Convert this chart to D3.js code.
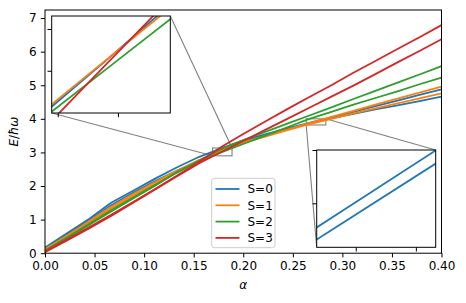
<!DOCTYPE html>
<html><head><meta charset="utf-8">
<script src="https://cdn.jsdelivr.net/npm/d3@7"></script>
<style>
html,body{margin:0;padding:0;background:#fff;}
text{font-family:"DejaVu Sans",sans-serif;}
</style>
</head><body>
<svg id="chart" width="466" height="303"></svg>
<script>
// ---- data ----
const alpha = [0, 0.0222, 0.0444, 0.0667, 0.0889, 0.1111, 0.1333, 0.1556, 0.1778, 0.2, 0.2222, 0.2444, 0.2667, 0.2889, 0.3111, 0.3333, 0.3556, 0.3778, 0.4];
const S0_upper = [0.17, 0.59, 1.02, 1.50, 1.86, 2.22, 2.56, 2.87, 3.12, 3.36, 3.54, 3.716, 3.878, 4.04, 4.21, 4.38, 4.54, 4.71, 4.88];
const S0_lower = [0.13, 0.55, 0.97, 1.43, 1.80, 2.15, 2.46, 2.75, 3.022, 3.30, 3.52, 3.695, 3.855, 4.015, 4.15, 4.28, 4.40, 4.53, 4.66];
const S1_upper = [0.12, 0.53, 0.95, 1.38, 1.76, 2.12, 2.46, 2.78, 3.06, 3.30, 3.49, 3.68, 3.87, 4.06, 4.24, 4.42, 4.60, 4.78, 4.96];
const S1_lower = [0.10, 0.50, 0.91, 1.33, 1.71, 2.07, 2.42, 2.763, 3.023, 3.283, 3.47, 3.66, 3.84, 4.00, 4.16, 4.31, 4.46, 4.61, 4.76];
const S2_upper = [0.08, 0.47, 0.87, 1.28, 1.66, 2.03, 2.40, 2.75, 3.10, 3.37, 3.61, 3.86, 4.10, 4.34, 4.59, 4.83, 5.08, 5.32, 5.57];
const S2_lower = [0.06, 0.44, 0.84, 1.24, 1.63, 2.01, 2.42, 2.752, 3.001, 3.25, 3.50, 3.75, 4.00, 4.21, 4.42, 4.62, 4.82, 5.03, 5.23];
const S3_upper = [0.05, 0.41, 0.77, 1.14, 1.52, 1.91, 2.31, 2.72, 3.16, 3.55, 3.92, 4.29, 4.65, 5.00, 5.37, 5.72, 6.08, 6.43, 6.79];
const S3_lower = [0.03, 0.38, 0.74, 1.11, 1.50, 1.90, 2.29, 2.68, 3.012, 3.34, 3.67, 4.00, 4.33, 4.66, 4.99, 5.33, 5.68, 6.02, 6.37];
const seriesLabels = ["S=0", "S=1", "S=2", "S=3"];
const colors = ["#1f77b4", "#ff7f0e", "#2ca02c", "#d62728"];
const xTicks = [0, 0.05, 0.10, 0.15, 0.20, 0.25, 0.30, 0.35, 0.40];
const yTicks = [0, 1, 2, 3, 4, 5, 6, 7];
const inset1X = [0.169, 0.1887], inset1Y = [2.899, 3.131];
const inset1XTicks = [0.17, 0.18], inset1YTicks = [3.0, 3.1];
const inset2X = [0.2635, 0.2833], inset2Y = [3.8175, 4.0];
const inset2XTicks = [0.27, 0.28], inset2YTicks = [3.9, 4.0];

const upper = [S0_upper, S1_upper, S2_upper, S3_upper];
const lower = [S0_lower, S1_lower, S2_lower, S3_lower];
const pts = arr => alpha.map((a, i) => [a, arr[i]]);

// ---- layout ----
const svg = d3.select("#chart");
const M = {l: 45, r: 441.5, t: 10, b: 253.2};
const x = d3.scaleLinear([0, 0.4], [M.l, M.r]);
const y = d3.scaleLinear([0, 7.24], [M.b, M.t]);
const LW = 1.8, TL = 4.2, FS = 12;

const defs = svg.append("defs");
function clip(id, x0, y0, x1, y1) {
  defs.append("clipPath").attr("id", id).append("rect")
    .attr("x", x0).attr("y", y0).attr("width", x1 - x0).attr("height", y1 - y0);
}
clip("cmain", M.l, M.t, M.r, M.b);

const I1 = {x0: 51.7, x1: 170.3, y0: 16, y1: 113};
const I2 = {x0: 316.7, x1: 435.7, y0: 150, y1: 247.3};
const xi1 = d3.scaleLinear(inset1X, [I1.x0, I1.x1]), yi1 = d3.scaleLinear(inset1Y, [I1.y1, I1.y0]);
const xi2 = d3.scaleLinear(inset2X, [I2.x0, I2.x1]), yi2 = d3.scaleLinear(inset2Y, [I2.y1, I2.y0]);
clip("ci1", I1.x0, I1.y0, I1.x1, I1.y1);
clip("ci2", I2.x0, I2.y0, I2.x1, I2.y1);

const gm = svg.append("g");
function markInset(xd, yd, box) {
  const rx0 = x(xd[0]), rx1 = x(xd[1]), ry0 = y(yd[1]), ry1 = y(yd[0]);
  gm.append("rect").attr("x", rx0).attr("y", ry0).attr("width", rx1 - rx0).attr("height", ry1 - ry0)
    .attr("fill", "none").attr("stroke", "#808080").attr("stroke-width", 1.1);
  gm.append("line").attr("x1", rx1).attr("y1", ry0).attr("x2", box.x1).attr("y2", box.y0)
    .attr("stroke", "#808080").attr("stroke-width", 1.1);
  gm.append("line").attr("x1", rx0).attr("y1", ry1).attr("x2", box.x0).attr("y2", box.y1)
    .attr("stroke", "#808080").attr("stroke-width", 1.1);
}
markInset(inset1X, inset1Y, I1);
markInset(inset2X, inset2Y, I2);

const line = d3.line().x(d => x(d[0])).y(d => y(d[1]));
const gl = svg.append("g").attr("clip-path", "url(#cmain)");
for (let s = 0; s < 4; s++) {
  [upper[s], lower[s]].forEach(arr => {
    gl.append("path").attr("d", line(pts(arr))).attr("fill", "none")
      .attr("stroke", colors[s]).attr("stroke-width", LW).attr("stroke-linejoin", "round");
  });
}

const ax = svg.append("g").attr("transform", `translate(0,${M.b})`)
  .call(d3.axisBottom(x).tickValues(xTicks).tickSize(TL).tickPadding(4.2).tickFormat(d3.format(".2f")));
const ay = svg.append("g").attr("transform", `translate(${M.l},0)`)
  .call(d3.axisLeft(y).tickValues(yTicks).tickSize(TL).tickPadding(4.2).tickFormat(d3.format("d")));
[ax, ay].forEach(g => {
  g.select(".domain").remove();
  g.selectAll("line").attr("stroke", "#000").attr("stroke-width", 1);
  g.selectAll("text").attr("font-size", FS).attr("fill", "#000").attr("font-family", "DejaVu Sans");
});
svg.append("rect").attr("x", M.l).attr("y", M.t).attr("width", M.r - M.l).attr("height", M.b - M.t)
  .attr("fill", "none").attr("stroke", "#000").attr("stroke-width", 1);

svg.append("text").attr("x", (M.l + M.r) / 2).attr("y", 289).attr("text-anchor", "middle")
  .attr("font-size", FS).attr("font-style", "italic").text("α");
const yl = svg.append("text").attr("transform", `translate(18,${(M.t + M.b) / 2}) rotate(-90)`)
  .attr("text-anchor", "middle").attr("font-size", FS);
yl.append("tspan").attr("font-style", "italic").text("E");
yl.append("tspan").text("/");
yl.append("tspan").attr("font-style", "italic").text("ħω");

function drawInset(box, xs, ys, xt, yt, data, cid) {
  const g = svg.append("g");
  g.append("rect").attr("x", box.x0).attr("y", box.y0).attr("width", box.x1 - box.x0)
    .attr("height", box.y1 - box.y0).attr("fill", "#fff");
  const l = d3.line().x(d => xs(d[0])).y(d => ys(d[1]));
  const gc = g.append("g").attr("clip-path", `url(#${cid})`);
  data.forEach(([arr, c]) => {
    gc.append("path").attr("d", l(pts(arr))).attr("fill", "none")
      .attr("stroke", c).attr("stroke-width", LW);
  });
  const bx = g.append("g").attr("transform", `translate(0,${box.y1})`)
    .call(d3.axisBottom(xs).tickValues(xt).tickSize(TL).tickFormat(""));
  const by = g.append("g").attr("transform", `translate(${box.x0},0)`)
    .call(d3.axisLeft(ys).tickValues(yt).tickSize(TL).tickFormat(""));
  [bx, by].forEach(a => { a.select(".domain").remove(); a.selectAll("line").attr("stroke", "#000").attr("stroke-width", 1); });
  g.append("rect").attr("x", box.x0).attr("y", box.y0).attr("width", box.x1 - box.x0)
    .attr("height", box.y1 - box.y0).attr("fill", "none").attr("stroke", "#000").attr("stroke-width", 1);
}
drawInset(I1, xi1, yi1, inset1XTicks, inset1YTicks,
  lower.map((arr, s) => [arr, colors[s]]), "ci1");
drawInset(I2, xi2, yi2, inset2XTicks, inset2YTicks,
  [[S0_upper, colors[0]], [S0_lower, colors[0]]], "ci2");

const lg = svg.append("g");
lg.append("rect").attr("x", 211.7).attr("y", 178.3).attr("width", 63.3).attr("height", 69.4)
  .attr("rx", 2.5).attr("fill", "#fff").attr("fill-opacity", 0.8).attr("stroke", "#cccccc").attr("stroke-width", 1);
seriesLabels.forEach((lab, i) => {
  const yy = 189 + i * 16.3;
  lg.append("line").attr("x1", 215.5).attr("x2", 239.5).attr("y1", yy).attr("y2", yy)
    .attr("stroke", colors[i]).attr("stroke-width", LW);
  lg.append("text").attr("x", 247.5).attr("y", yy).attr("dy", "0.36em").attr("font-size", FS).text(lab);
});
</script>
</body></html>
